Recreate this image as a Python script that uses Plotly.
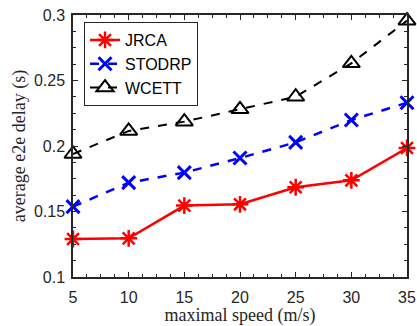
import plotly.graph_objects as go

speed = [5, 10, 15, 20, 25, 30, 35]
jrca = [0.129, 0.1295, 0.1545, 0.1555, 0.1685, 0.1738, 0.1985]
stodrp = [0.1537, 0.172, 0.1797, 0.1908, 0.2028, 0.2198, 0.233]
wcett = [0.1939, 0.2115, 0.2186, 0.228, 0.2376, 0.2631, 0.2957]

x_ticks = [5, 10, 15, 20, 25, 30, 35]
y_ticks = [0.1, 0.15, 0.2, 0.25, 0.3]
y_tick_labels = ["0.1", "0.15", "0.2", "0.25", "0.3"]

fig = go.Figure()
fig.add_trace(go.Scatter(x=speed, y=jrca, name="JRCA", mode="lines+markers", cliponaxis=False,
                         line=dict(color="#ff0000", width=2.5),
                         marker=dict(symbol="asterisk-open", size=14, line=dict(color="#ff0000", width=2.5))))
fig.add_trace(go.Scatter(x=speed, y=stodrp, name="STODRP", mode="lines+markers", cliponaxis=False,
                         line=dict(color="#0000ff", width=2.5, dash="dash"),
                         marker=dict(symbol="x-thin-open", size=13, line=dict(color="#0000ff", width=3))))
fig.add_trace(go.Scatter(x=speed, y=wcett, name="WCETT", mode="lines+markers", cliponaxis=False,
                         line=dict(color="#000000", width=2, dash="dash"),
                         marker=dict(symbol="triangle-up-open", size=15, color="#000000", line=dict(color="#000000", width=2))))

axis_common = dict(showline=True, linecolor="#262626", linewidth=1.5, mirror="allticks",
                   ticks="inside", ticklen=5, tickcolor="#262626", tickwidth=1,
                   showgrid=False, zeroline=False, automargin=False,
                   tickfont=dict(family="Liberation Sans, Arial, sans-serif", size=16, color="#262626"))

fig.update_xaxes(range=[5, 35], tickvals=x_ticks, ticklabelstandoff=5,
                 title=dict(text="maximal speed (m/s)", standoff=14,
                 font=dict(family="Liberation Serif, Times New Roman, serif", size=18, color="#262626")),
                 minor=dict(dtick=1.25, tick0=5, ticks="inside", ticklen=3, tickcolor="#262626"),
                 **axis_common)
fig.update_yaxes(range=[0.1, 0.3], tickvals=y_ticks, ticktext=y_tick_labels, ticklabelstandoff=3,
                 title=dict(text="average e2e delay (s)", standoff=4,
                 font=dict(family="Liberation Serif, Times New Roman, serif", size=18, color="#262626")),
                 minor=dict(dtick=0.0125, tick0=0.1, ticks="inside", ticklen=3, tickcolor="#262626"),
                 **axis_common)

fig.update_layout(template="none", width=417, height=326, margin=dict(l=73, r=10, t=15, b=49),
                  plot_bgcolor="white", paper_bgcolor="white",
                  legend=dict(x=0.033, y=0.973, xanchor="left", yanchor="top",
                              bgcolor="white", bordercolor="#262626", borderwidth=1,
                              font=dict(family="Liberation Sans, Arial, sans-serif", size=16, color="#000000"),
                              tracegroupgap=0, itemwidth=30),
                  showlegend=True)

fig.write_html("out.html", config={"displayModeBar": False},
               post_script="document.body.style.margin='0';document.body.style.padding='0';")
